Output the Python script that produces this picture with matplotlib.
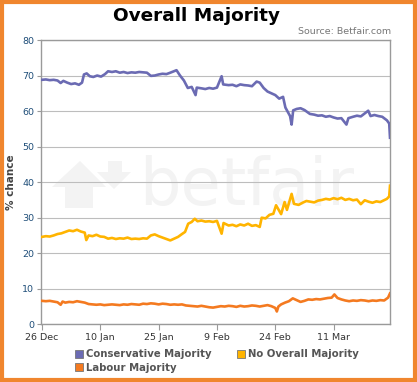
import matplotlib
matplotlib.use("Agg")
import matplotlib.pyplot as plt
from matplotlib.lines import Line2D
from matplotlib.patches import Polygon, Rectangle

# ===================== 数据（天数自 26 Dec 起）=====================
con_days = [0, 1, 2, 3, 4, 4.8, 5.5, 6.5, 7.5, 8.5, 9.5, 10.3, 10.8, 11.5, 12.3, 13.2, 14.2, 15.2,
            16.2, 17, 18, 19, 20, 21, 22, 23, 24, 25, 26, 27, 28, 29, 30, 31, 32, 33, 34.6, 35.5,
            36.5, 37.5, 38.5, 39.5, 39.8, 41, 42, 43, 44, 45, 46.2, 46.6, 48, 49, 50, 51, 52, 53,
            54, 55.2, 56, 57, 58, 59, 60, 61, 62, 62.6, 63.8, 64.2, 64.6, 65.5, 66.5, 67.5, 68.9,
            70, 71, 72, 73, 74, 75, 76, 77, 78.3, 78.8, 80, 81, 82, 83.9, 84.5, 85.5, 86.5, 87.5,
            88.7, 89.3, 89.5]
con_vals = [68.8, 68.9, 68.7, 68.8, 68.6, 67.9, 68.5, 68.0, 67.6, 67.8, 67.4, 68.0, 70.3, 70.6,
            69.8, 69.6, 70.0, 69.7, 70.4, 71.2, 71.0, 71.2, 70.8, 71.0, 70.7, 70.9, 70.8, 71.0,
            70.9, 70.8, 69.9, 70.0, 70.3, 70.5, 70.4, 70.8, 71.5, 70.0, 68.6, 66.5, 66.8, 64.5,
            66.6, 66.4, 66.2, 66.5, 66.3, 66.6, 69.8, 67.5, 67.3, 67.4, 67.0, 67.5, 67.3, 67.2,
            67.0, 68.3, 68.0, 66.5, 65.5, 65.0, 64.5, 63.5, 64.0, 61.0, 58.6, 56.2, 60.2, 60.6,
            60.8, 60.3, 59.2, 59.0, 58.7, 58.8, 58.4, 58.6, 58.2, 57.9, 58.0, 56.2, 58.0, 58.4,
            58.7, 58.5, 60.1, 58.6, 58.9, 58.6, 58.4, 57.4, 56.5, 52.5]

nom_days = [0, 1, 2, 3, 4, 5, 6, 7, 8, 9, 10, 11, 11.4, 12, 13, 14, 15, 16, 17, 18, 19, 20, 21,
            22, 23, 24, 25, 26, 27, 28, 29, 30, 31, 32, 33, 34, 35, 36, 36.8, 37.6, 38.5, 39.3,
            40, 41, 42, 43, 44, 45, 46.2, 46.7, 48, 49, 50, 51, 52, 53, 54, 55, 56, 56.5, 57.5,
            58.5, 59.5, 60.2, 61.5, 62.4, 63, 64.2, 64.8, 66, 67, 68, 69, 70, 71, 72, 73, 74, 75,
            76, 77, 78, 79, 80, 81, 82, 83, 84, 85, 86, 87, 88.7, 89.3, 89.5]
nom_vals = [24.6, 24.8, 24.7, 25.0, 25.4, 25.6, 26.0, 26.4, 26.2, 26.6, 26.1, 25.8, 23.7, 25.0,
            24.8, 25.2, 24.7, 24.6, 24.1, 24.3, 24.0, 24.2, 24.1, 24.4, 24.0, 24.1, 24.0, 24.2,
            24.1, 25.0, 25.3, 24.8, 24.4, 24.0, 23.6, 24.1, 24.6, 25.4, 26.0, 28.3, 28.8, 29.7,
            29.0, 29.2, 28.9, 29.0, 28.8, 29.1, 25.5, 28.5, 27.8, 28.0, 27.6, 28.1, 27.8, 28.3,
            27.7, 27.9, 27.4, 30.0, 29.8, 30.8, 31.1, 33.5, 31.0, 34.4, 32.2, 36.7, 33.9, 33.6,
            34.2, 34.7, 34.5, 34.3, 34.8, 35.0, 35.3, 35.1, 35.5, 35.2, 35.6, 35.0, 35.3, 34.9,
            35.1, 33.8, 34.9, 34.5, 34.2, 34.6, 34.4, 35.3, 36.0, 39.0]

lab_days = [0, 1, 2, 3, 4, 4.8, 5.3, 6, 7, 8, 9, 10, 11, 12, 13, 14, 15, 16, 17, 18, 19, 20, 21,
            22, 23, 24, 25, 26, 27, 28, 29, 30, 31, 32, 33, 34, 35, 36, 37, 38, 39, 40, 41, 42,
            43, 44, 45, 46, 47, 48, 49, 50, 51, 52, 53, 54, 55, 56, 57, 58, 59, 60, 60.4, 60.8,
            61.5, 62.5, 63.5, 64.5, 65.5, 66.5, 67.5, 68.5, 69.5, 70.5, 71.5, 72.5, 73.5, 74.5,
            75.2, 76, 77, 78, 79, 80, 81, 82, 83, 84, 85, 86, 87, 88, 89, 89.5]
lab_vals = [6.6, 6.5, 6.6, 6.4, 6.2, 5.5, 6.4, 6.1, 6.3, 6.2, 6.5, 6.3, 6.1, 5.7, 5.6, 5.5, 5.6,
            5.4, 5.5, 5.6, 5.5, 5.4, 5.6, 5.5, 5.7, 5.6, 5.5, 5.8, 5.7, 5.9, 5.8, 5.6, 5.8, 5.7,
            5.5, 5.6, 5.5, 5.6, 5.3, 5.2, 5.1, 5.0, 5.2, 5.0, 4.8, 4.7, 4.9, 5.1, 5.0, 5.2, 5.1,
            4.9, 5.2, 5.0, 5.1, 5.3, 5.2, 5.0, 5.2, 5.4, 5.1, 4.6, 3.6, 5.0, 5.6, 6.1, 6.5, 7.3,
            6.8, 6.3, 6.6, 7.0, 6.9, 7.1, 7.0, 7.2, 7.4, 7.5, 8.4, 7.4, 7.0, 6.7, 6.5, 6.7, 6.6,
            6.8, 6.7, 6.5, 6.7, 6.6, 6.8, 6.7, 7.5, 8.7]

tick_days = [0, 15, 30, 45, 60, 75]
tick_labels = ['26 Dec', '10 Jan', '25 Jan', '9 Feb', '24 Feb', '11 Mar']
y_ticks = [0, 10, 20, 30, 40, 50, 60, 70, 80]

series = [
    ('Conservative Majority', con_days, con_vals, '#6b6bb3'),
    ('Labour Majority', lab_days, lab_vals, '#f47a20'),
    ('No Overall Majority', nom_days, nom_vals, '#ffb400'),
]

W, H = 417, 382
fig = plt.figure(figsize=(W / 100, H / 100), dpi=100)
fig.patch.set_facecolor('white')
AX_L, AX_R, AX_T, AX_B = 41, 390, 40, 324.3
ax = fig.add_axes([AX_L / W, 1 - AX_B / H, (AX_R - AX_L) / W, (AX_B - AX_T) / H])


def px2ax(x, y):
    """像素坐标 → 轴坐标（水印用）"""
    return ((x - AX_L) / (AX_R - AX_L), (AX_B - y) / (AX_B - AX_T))


# 水印 betfair
wm = '#f3f3f3'
up = [(80, 161), (106, 187), (93, 187), (93, 208), (65, 208), (65, 187), (52, 187)]
down = [(108, 161), (122, 161), (122, 172), (131, 172), (114, 189), (97, 172), (108, 172)]
for pts in (up, down):
    ax.add_patch(Polygon([px2ax(*p) for p in pts], closed=True, transform=ax.transAxes,
                         facecolor=wm, edgecolor='none', zorder=0))
bx, by = px2ax(139, 205)
ax.text(bx, by, 'betfair', transform=ax.transAxes, fontsize=47, color=wm,
        ha='left', va='baseline', zorder=0)

for name, d, v, c in series:
    ax.plot(d, v, color=c, lw=1.9, zorder=3)

ax.set_xlim(-0.25, 89.5)
ax.set_ylim(0, 80)
ax.set_yticks(y_ticks)
ax.set_xticks(tick_days)
ax.set_xticklabels(tick_labels)
ax.grid(True, axis='y', color='#bdbdbd', lw=0.8, zorder=1)
ax.set_axisbelow(True)
for s in ax.spines.values():
    s.set_color('#9a9a9a')
    s.set_linewidth(1.0)
ax.tick_params(axis='y', labelsize=6.8, labelcolor='#1f4e79', color='#9a9a9a', length=3, pad=2)
ax.tick_params(axis='x', labelsize=6.8, labelcolor='#333333', color='#9a9a9a', length=4, pad=2)
ax.set_ylabel('% chance', fontsize=7.5, fontweight='bold', color='#444444', labelpad=4)

fig.text(196.5 / W, 1 - 16 / H, 'Overall Majority', fontsize=13.3, fontweight='bold',
         ha='center', va='center', color='black')
fig.text(391 / W, 1 - 32 / H, 'Source: Betfair.com', fontsize=6.8, color='#777777',
         ha='right', va='center')

handles = [Line2D([], [], marker='s', ls='none', markersize=6, markerfacecolor=c,
                  markeredgecolor='#777777', markeredgewidth=0.6) for _, _, _, c in series]
labels = [n for n, _, _, _ in series]
fig.legend(handles, labels, ncol=2, loc='upper left', bbox_to_anchor=(70 / W, 1 - 344 / H),
           frameon=False, prop={'size': 7.3, 'weight': 'bold'}, labelcolor='#555555',
           handlelength=0.8, handletextpad=0.3, columnspacing=2.5, labelspacing=0.35,
           borderpad=0)

# 橙色外框
fig.patches.append(Rectangle((2 / W, 2 / H), 1 - 4 / W, 1 - 4 / H, transform=fig.transFigure,
                             fill=False, edgecolor='#f0862e', lw=3.0))

fig.savefig('out.png', dpi=100)
